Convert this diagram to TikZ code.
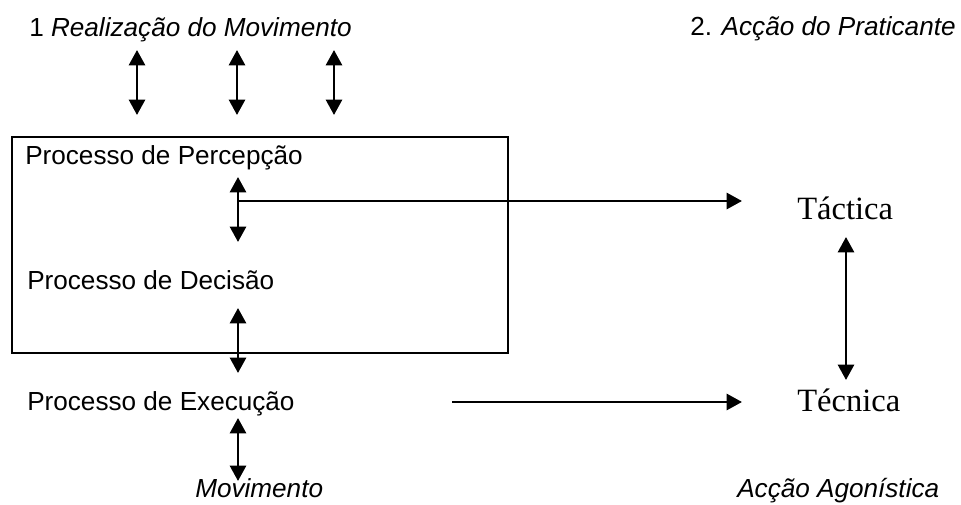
\documentclass[tikz,border=0pt]{standalone}
\usepackage{fontspec}
\setmainfont{Liberation Serif}
\newfontfamily\procfont{Liberation Sans}
\usetikzlibrary{arrows.meta, positioning}

\begin{document}
\begin{tikzpicture}[
    x=0.75pt, y=-0.75pt,
    lbl/.style={inner sep=0pt, anchor=base west,
                font=\procfont\fontsize{19.6}{23}\selectfont},
    res/.style={inner sep=0pt, anchor=base west,
                font=\fontsize{24.4}{29}\selectfont},
    link/.style={line width=2pt, -{Triangle[length=11.5pt, width=12pt]}},
    both/.style={link, {Triangle[length=11.5pt, width=12pt]}-{Triangle[length=11.5pt, width=12pt]}}
]
    \useasboundingbox (0,0) rectangle (961,505);

    % Headings
    \node[lbl] (realiz) at (29,37) {1 \textit{Realização do Movimento}};
    \node[lbl] (accao) at (690,36) {2. \textit{Acção do Praticante}};

    % Processes
    \node[lbl] (percep) at (25,165) {Processo de Percepção};
    \node[lbl] (decisao) at (27,290) {Processo de Decisão};
    \node[lbl] (execucao) at (27,411) {Processo de Execução};
    \node[lbl] (movim) at (195,498) {\textit{Movimento}};
    \node[lbl] (agon) at (737,498) {\textit{Acção Agonística}};

    % Results
    \node[res] (tactica) at (797,220) {Táctica};
    \node[res] (tecnica) at (797,412) {Técnica};

    % Frame round perception and decision
    \draw[line width=2pt] (12,137) rectangle (508,353);

    % Arrow ends
    \foreach \x [count=\i] in {137,237,334} {
        \coordinate (top\i) at (\x,50);
        \coordinate (bot\i) at (\x,115);
        \draw[both] (top\i) -- (bot\i);
    }
    \coordinate (pd1) at (238,177);
    \coordinate (pd2) at (238,242);
    \coordinate (split) at (238,201);
    \coordinate (de1) at (238,308);
    \coordinate (de2) at (238,373);
    \coordinate (em1) at (238,418);
    \coordinate (em2) at (238,481);
    \coordinate (exstart) at (452,402);
    \coordinate (tt1) at (846,237);
    \coordinate (tt2) at (846,380);

    \draw[both] (pd1) -- (pd2);
    \draw[link] (split) -- (split -| 742,0);
    \draw[both] (de1) -- (de2);
    \draw[both] (em1) -- (em2);
    \draw[link] (exstart) -- (exstart -| 742,0);
    \draw[both] (tt1) -- (tt2);
\end{tikzpicture}
\end{document}
